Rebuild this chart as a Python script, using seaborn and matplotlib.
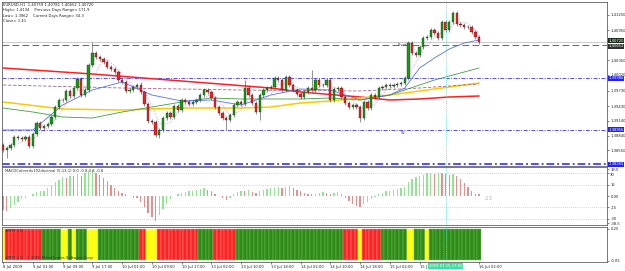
import numpy as np
import pandas as pd
import matplotlib
matplotlib.use("Agg")
import matplotlib.pyplot as plt
import seaborn as sns

# ---------------- data ----------------
closes = [1.3855, 1.3859, 1.3865, 1.3881, 1.3879, 1.3877, 1.3881, 1.3863, 1.3887, 1.3909,
          1.3899, 1.3903, 1.3907, 1.3921, 1.3941, 1.3955, 1.3955, 1.3973, 1.3963, 1.3979,
          1.3997, 1.3965, 1.3975, 1.4025, 1.4049, 1.4041, 1.4037, 1.4031, 1.4021, 1.4017,
          1.4011, 1.3995, 1.3991, 1.3973, 1.3975, 1.3981, 1.3985, 1.3971, 1.3947, 1.3913,
          1.3911, 1.3885, 1.3895, 1.3919, 1.3929, 1.3921, 1.3943, 1.3935, 1.3955, 1.3951,
          1.3947, 1.3951, 1.3955, 1.3965, 1.3975, 1.3971, 1.3959, 1.3941, 1.3929, 1.3919,
          1.3915, 1.3925, 1.3945, 1.3951, 1.3947, 1.3979, 1.3965, 1.3949, 1.3931, 1.3965,
          1.3975, 1.3979, 1.3981, 1.3999, 1.3995, 1.3975, 1.4001, 1.3985, 1.3975, 1.3967,
          1.3961, 1.3971, 1.3979, 1.3975, 1.3995, 1.3985, 1.3985, 1.3995, 1.3955, 1.3977,
          1.3979, 1.3961, 1.3949, 1.3941, 1.3945, 1.3941, 1.3919, 1.3951, 1.3939, 1.3965,
          1.3961, 1.3979, 1.3981, 1.3985, 1.3983, 1.3985, 1.3987, 1.3989, 1.3999, 1.4069,
          1.4049, 1.4045, 1.4061, 1.4079, 1.4081, 1.4095, 1.4089, 1.4079, 1.4111, 1.4095,
          1.4111, 1.4129, 1.4107, 1.4105, 1.4101, 1.4101, 1.4091, 1.4081, 1.4072]
first_open = 1.3865
special_highs = {24: 1.4071, 83: 1.4015, 121: 1.4134, 37: 1.3991, 65: 1.3995}
special_lows = {1: 1.3839, 42: 1.3879, 60: 1.3895, 69: 1.3915, 96: 1.3911}
wick = 0.0004

ma_blue_idx = [0, 8, 16, 24, 32, 40, 48, 56, 64, 72, 80, 88, 96, 104, 108, 112, 116, 120, 124, 128]
ma_blue = [1.3895, 1.3895, 1.3945, 1.3975, 1.3991, 1.3965, 1.3953, 1.3955, 1.3945, 1.3965,
           1.3977, 1.3975, 1.3955, 1.3965, 1.3979, 1.4019, 1.4039, 1.4057, 1.4069, 1.4075]
ma_green_idx = [0, 8, 16, 24, 32, 40, 48, 56, 64, 72, 80, 88, 96, 104, 108, 112, 116, 120, 128]
ma_green = [1.3939, 1.3931, 1.3921, 1.3919, 1.3931, 1.3941, 1.3951, 1.3959, 1.3957, 1.3957,
            1.3957, 1.3959, 1.3955, 1.3965, 1.3975, 1.3985, 1.3995, 1.4003, 1.4019]
ma_yellow_idx = [0, 16, 32, 48, 64, 72, 80, 88, 96, 104, 112, 120, 128]
ma_yellow = [1.3951, 1.3937, 1.3935, 1.3939, 1.3939, 1.3941, 1.3949, 1.3953, 1.3959, 1.3965,
             1.3973, 1.3981, 1.3989]
ma_red_idx = [0, 24, 48, 72, 80, 96, 104, 112, 120, 128]
ma_red = [1.4019, 1.4007, 1.3993, 1.3979, 1.3971, 1.3961, 1.3955, 1.3957, 1.3961, 1.3963]
ma_purple_idx = [0, 32, 64, 96, 112, 128]
ma_purple = [1.3985, 1.3979, 1.3975, 1.3973, 1.3979, 1.3987]

bid = 1.40720
pivot = 1.40652
support_levels = [1.39986, 1.38956, 1.38265]
support_names = ["", "S2", ""]
label_idx = 106

macd = [-18, -20, -16, -12, -8, -4, -2, 0, 3, 5, 6, 7, 10, 14, 18, 21, 25, 24, 27, 26,
        29, 27, 30, 33, 34, 31, 28, 24, 20, 15, 11, 7, 4, 2, 0, -2, -3, -8, -15, -22,
        -28, -33, -25, -17, -10, -4, 0, 3, 4, 5, 6, 7, 8, 9, 10, 8, 6, 3, 0, -3,
        -5, -2, 2, 5, 7, 6, 8, 5, 4, 6, 8, 9, 10, 11, 12, 11, 12, 13, 10, 8,
        6, 4, 3, 2, 3, 4, 5, 4, 3, 4, 5, 3, -2, -6, -10, -13, -14, -11, -8, -4,
        -1, 2, 4, 6, 7, 8, 9, 10, 12, 18, 22, 25, 27, 28, 30, 31, 29, 31, 30, 29,
        28, 29, 27, 22, 17, 12, 7, 3, 2.3]

cci_states = ("YRRRRRRRRRRGGGGGYYGYGGGYYYGGGGGGGGGGGRRYYYRRRRRRRRRRRGGGGRRRRRR"
              "GGGGGGGGGGGGGGGGGGGGGGGGGGGGGRRRRYRRRRRGGGGGGGYYGGGYGGGGGGGGGGGGGG")

tick_idx = [0, 8, 16, 24, 32, 40, 48, 56, 64, 72, 80, 88, 96, 104, 112, 128]
tick_labels = ["8 Jul 2009", "9 Jul 01:00", "9 Jul 09:00", "9 Jul 17:00", "10 Jul 01:00",
               "10 Jul 09:00", "10 Jul 17:00", "13 Jul 02:00", "13 Jul 10:00", "13 Jul 18:00",
               "14 Jul 02:00", "14 Jul 10:00", "14 Jul 18:00", "15 Jul 02:00", "15 J",
               "16 Jul 02:00"]
cursor_idx = 119
cursor_label = "2009.07.15 17:00"

price_ticks = [1.41250, 1.40950, 1.40350, 1.40060, 1.39730, 1.39430, 1.39140, 1.38840, 1.38550]
price_tick_labels = ["1.41250", "1.40950", "1.40350", "1.40020", "1.39730", "1.39430",
                     "1.39140", "1.38840", "1.38550"]

header = ["EURUSD,H1  1.40759 1.40781 1.40652 1.40720",
          "High= 1.4134    Previous Days Range= 171.9",
          "Low= 1.3962    Current Days Range= 34.3",
          "Close= 1.41"]

# ---------------- figure ----------------
sns.set_style("white")
plt.rcParams['font.family'] = ['DejaVu Sans']
W, H = 625, 271
fig = plt.figure(figsize=(W / 100, H / 100), dpi=100)
fig.patch.set_facecolor("white")


def ax_px(x0, y0, x1, y1):
    return fig.add_axes([x0 / W, 1 - y1 / H, (x1 - x0) / W, (y1 - y0) / H])


ax1 = ax_px(2, 2, 607, 166)
ax2 = ax_px(2, 167, 607, 225)
ax3 = ax_px(2, 227, 607, 262)
XL = (-0.3, 162.4)
FS = 2.7

n = len(closes)
idx = np.arange(n)
c = np.array(closes)
o = np.array([first_open] + closes[:-1])
hi = np.maximum(o, c) + wick
lo = np.minimum(o, c) - wick
for k, v in special_highs.items():
    hi[k] = v
for k, v in special_lows.items():
    lo[k] = v

for ax in (ax1, ax2, ax3):
    ax.set_xlim(*XL)
    for s in ax.spines.values():
        s.set_color("#606060")
        s.set_linewidth(0.6)
    ax.set_xticks([])
    ax.tick_params(axis='y', left=False, right=True, labelleft=False, labelright=True,
                   labelsize=FS, length=1.5, width=0.4, pad=1, colors="#202020")

# ---- main price panel ----
ax1.set_ylim(1.3823, 1.4151)
ax1.axhline(pivot, color="#707070", lw=0.8, dashes=(6, 3))
ax1.axhline(bid, color="#a0a0a0", lw=0.4)
for lvl in support_levels:
    ax1.axhline(lvl, color="#5050ff", lw=0.7 if lvl != support_levels[-1] else 1.4,
                dashes=(4, 1.5, 1, 1.5))
ax1.text(label_idx, pivot - 0.0001, "Pivot", fontsize=FS, color="#404040", va="center")
ax1.text(label_idx + 1, support_levels[1] - 0.0007, support_names[1], fontsize=FS,
         color="#404040", va="center")

sns.lineplot(x=ma_red_idx, y=ma_red, ax=ax1, color="#ff2020", lw=1.1)
sns.lineplot(x=ma_yellow_idx, y=ma_yellow, ax=ax1, color="#ffc800", lw=1.1)
sns.lineplot(x=ma_purple_idx, y=ma_purple, ax=ax1, color="#b06080", lw=0.6)
ax1.lines[-1].set_dashes((4, 2))
sns.lineplot(x=ma_green_idx, y=ma_green, ax=ax1, color="#40a040", lw=0.6)
sns.lineplot(x=ma_blue_idx, y=ma_blue, ax=ax1, color="#5070ff", lw=0.6)
short_ma = pd.Series(closes).rolling(5).mean()
sns.lineplot(x=idx, y=short_ma, ax=ax1, color="#e080c0", lw=0.6)
ax1.lines[-1].set_linestyle(":")

ax1.vlines(idx, lo, hi, color="#404040", lw=0.4, zorder=3)
body_col = ["#10a010" if cc >= oo else "#ff1a1a" for oo, cc in zip(o, c)]
body_h = np.maximum(np.abs(c - o), 0.00006)
ax1.bar(idx, body_h, bottom=np.minimum(o, c), width=0.62, color=body_col,
        edgecolor="#202020", linewidth=0.25, zorder=4)

ax1.set_yticks(price_ticks)
ax1.set_yticklabels(price_tick_labels)
ax1.set_ylabel("")
ax1.set_xlabel("")
ax1.set_xticks([])

ytr = ax1.get_yaxis_transform()
ax1.text(1.002, bid + 0.00017, "1.40720", transform=ytr, fontsize=FS, color="white",
         va="center", ha="left", bbox=dict(boxstyle="square,pad=0.15", fc="#1c2f1c", ec="none"))
ax1.text(1.002, pivot - 0.00025, "1.40652", transform=ytr, fontsize=FS, color="white",
         va="center", ha="left", bbox=dict(boxstyle="square,pad=0.15", fc="#303030", ec="none"))
for lvl in support_levels:
    ax1.text(1.002, lvl, f"{lvl:.5f}", transform=ytr, fontsize=FS, color="white",
             va="center", ha="left", bbox=dict(boxstyle="square,pad=0.15", fc="#2020ff", ec="none"))

for k, line in enumerate(header):
    fig.text(3 / W, 1 - (5 + 5.3 * k) / H, line, fontsize=FS, va="center", ha="left",
             color="#202020")

# ---- MACD panel ----
ax2.set_ylim(-38.5, 38.5)
for g in (30, 15, -15, -30):
    ax2.axhline(g, color="#b0b0b0", lw=0.5, ls=(0, (1, 2)))
m = np.array(macd, dtype=float)
prev = np.concatenate([[m[0] + 1], m[:-1]])
mcol = ["#8fe88f" if v > p else "#f28a8a" for v, p in zip(m, prev)]
ax2.bar(idx, m, width=0.35, color=mcol, linewidth=0)
ax2.set_yticks([35.5, 30, 15, 0, -15, -30, -36])
ax2.set_yticklabels(["39.5", "", "15", "0.00", "-15", "-30", "-38.5"])
ax2.text(1.0 + 2.2 / 605, 28.5, "30", transform=ax2.get_yaxis_transform(), fontsize=FS,
         color="#202020", va="center", ha="left")
ax2.text(0.5, 33, "MACDColoredv102decimal (5,13,1) 0.0 -0.8 0.8 -0.8", fontsize=FS,
         color="#303030", va="center")
ax2.text(n + 0.5, -3, "2.3", fontsize=3.6, color="#b0b0b0", va="center")

# ---- MTF CCI panel ----
ax3.set_ylim(-0.05, 0.25)
cmap = {"R": "#ff2222", "G": "#2f8a1c", "Y": "#ffff00"}
emap = {"R": "#ff8a8a", "G": "#6cbf48", "Y": "#ffff90"}
ax3.bar(idx, 0.27, bottom=-0.035, width=1.0, color=[cmap[s] for s in cci_states],
        edgecolor=[emap[s] for s in cci_states], linewidth=0.35)
ax3.set_yticks([0.235, -0.04])
ax3.set_yticklabels(["0.25", "-0.05"])
ax3.text(0.5, 0.215, "#MTF CCI", fontsize=FS, color="#303030", va="center")
ax3.text(0.5, -0.02, "#MTF-CCI  \u00a9 2006 MetaQuotes Software Corp.", fontsize=FS,
         color="#303030", va="center")
ax3.set_xticks(tick_idx)
ax3.set_xticklabels(tick_labels, ha="left")
ax3.tick_params(axis='x', bottom=True, labelbottom=True, labelsize=FS, length=1.5,
                width=0.4, pad=0.8, colors="#202020")
ax3.text(cursor_idx, -0.085, cursor_label, fontsize=FS, color="white", ha="center",
         va="center", clip_on=False, zorder=10,
         bbox=dict(boxstyle="square,pad=0.25", fc="#3ee0a0", ec="none"))

# cursor line
for ax in (ax1, ax2, ax3):
    ax.axvline(cursor_idx, color="#40e0c0", lw=0.5, ls=(0, (1.5, 1.5)), zorder=6)

fig.savefig("out.png", dpi=100, facecolor="white")
